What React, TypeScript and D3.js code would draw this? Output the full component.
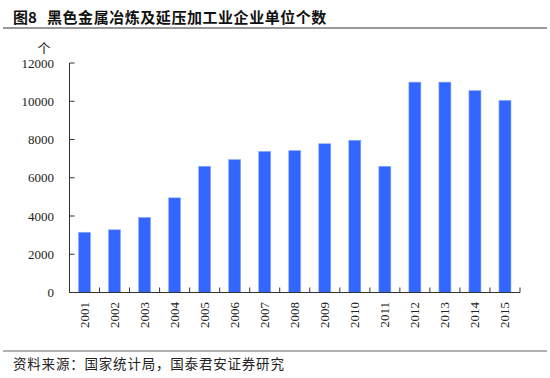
import React from "react";
import * as d3 from "d3";

const years = ["2001","2002","2003","2004","2005","2006","2007","2008","2009","2010","2011","2012","2013","2014","2015"];
const counts = [3150, 3280, 3930, 4950, 6600, 6950, 7380, 7420, 7780, 7960, 6600, 11000, 11000, 10560, 10050];
const yTicks = [0, 2000, 4000, 6000, 8000, 10000, 12000];
const titleNum = "图8";
const titleText = "黑色金属冶炼及延压加工业企业单位个数";
const source = "资料来源：国家统计局，国泰君安证券研究";
const unit = "个";

export default function App() {
  const W = 550, H = 378;
  const x0 = 69.5, x1 = 520, yTop = 63, yBase = 292.5;
  const x = d3.scaleBand<string>().domain(years).range([x0, x1]).paddingInner(0).paddingOuter(0);
  const y = d3.scaleLinear().domain([0, 12000]).range([yBase, yTop]);
  const bw = x.bandwidth() * 0.4;
  const serif = "'Liberation Serif', 'DejaVu Serif', serif";
  const cjk = "'Noto Sans CJK SC', sans-serif";
  const boundaries = d3.range(years.length + 1).map(i => x0 + i * x.step());
  return (
    <svg width={W} height={H} style={{ position: "absolute", left: 0, top: 0, background: "#fff" }}>
      <rect x={0} y={0} width={W} height={H} fill="#fff" />
      <text x={13} y={23} fontFamily={cjk} fontWeight="bold" fontSize={15} fill="#111">{titleNum}</text>
      <text x={47} y={23} fontFamily={cjk} fontWeight="bold" fontSize={15} letterSpacing={0.55} fill="#111">{titleText}</text>
      <line x1={3} x2={547} y1={28} y2={28} stroke="#999" strokeWidth={2} />
      <text x={44} y={53} fontFamily={cjk} fontSize={13} textAnchor="middle" fill="#222">{unit}</text>
      {counts.map((v, i) => (
        <rect key={years[i]} x={x(years[i])! + (x.bandwidth() - bw) / 2} y={y(v)} width={bw} height={yBase - y(v)}
          fill="#3366FF" stroke="#8fb0ff" strokeWidth={0.6} />
      ))}
      <line x1={x0} x2={x0} y1={yTop} y2={yBase} stroke="#333" strokeWidth={1} />
      <line x1={x0} x2={x1} y1={yBase} y2={yBase} stroke="#333" strokeWidth={1} />
      {yTicks.map(t => (
        <g key={t}>
          <line x1={x0} x2={x0 + 5} y1={y(t)} y2={y(t)} stroke="#333" strokeWidth={1} />
          <text x={54} y={y(t)} dy="0.35em" textAnchor="end" fontFamily={serif} fontSize={13} fill="#222">{t}</text>
        </g>
      ))}
      {boundaries.map((b, i) => (
        <line key={i} x1={b} x2={b} y1={yBase} y2={yBase - 5} stroke="#333" strokeWidth={1} />
      ))}
      {years.map(yr => {
        const cx = x(yr)! + x.bandwidth() / 2;
        return (
          <text key={yr} transform={`translate(${cx + 4.5},302) rotate(-90)`} textAnchor="end"
            fontFamily={serif} fontSize={13} fill="#222">{yr}</text>
        );
      })}
      <line x1={3} x2={547} y1={351} y2={351} stroke="#999" strokeWidth={1.5} />
      <text x={13} y={369} fontFamily={cjk} fontSize={13.5} letterSpacing={0.8} fill="#222">{source}</text>
    </svg>
  );
}
